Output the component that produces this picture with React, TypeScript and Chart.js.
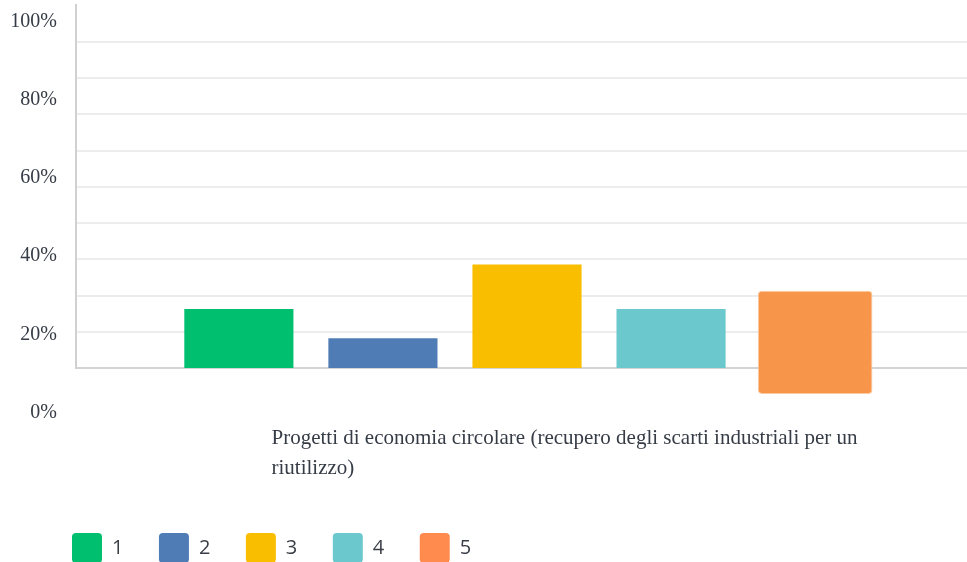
import React, { useEffect, useRef } from 'react';
import { Chart, registerables } from 'chart.js';

Chart.register(...registerables);

// ---- data ----
const categories = [[
  'Progetti di economia circolare (recupero degli scarti industriali per un',
  'riutilizzo)',
]];
const seriesNames = ['1', '2', '3', '4', '5'];
const series1 = [16.3];
const series2 = [8.2];
const series3 = [28.6];
const series4 = [16.3];
const series5 = [[-7.2, 21.3]];
const gridValues = [10, 20, 30, 40, 50, 60, 70, 80, 90];
const axisLabelValues = [0, 20, 40, 60, 80, 100];

// ---- styles ----
const barColors = ['#00BF6F', '#507CB6', '#F9BE00', '#6BC8CD', '#F7964A'];
const legendColors = ['#00BF6F', '#507CB6', '#F9BE00', '#6BC8CD', '#FF8B4F'];
const TEXT = '#363c46';
const SERIF = "'Liberation Serif', 'DejaVu Serif', serif";
const LEGEND_PAD = 35.5;

const legendPlace = {
  id: 'legendPlace',
  afterLayout(chart: any) {
    const lg = chart.legend;
    if (!lg) return;
    lg.left = 72 - LEGEND_PAD;
    lg.right = lg.left + lg.width;
    lg.top = 533 - LEGEND_PAD;
    lg.bottom = lg.top + lg.height;
  },
};

export default function App() {
  const canvasRef = useRef<HTMLCanvasElement | null>(null);

  useEffect(() => {
    const canvas = canvasRef.current;
    if (!canvas) return;
    const allSeries = [series1, series2, series3, series4, series5];
    const datasets: any[] = allSeries.map((data, i) => ({
      label: seriesNames[i],
      data,
      backgroundColor: barColors[i],
      borderWidth: 0,
      categoryPercentage: 0.7986,
      barPercentage: 0.7575,
    }));
    datasets[4] = {
      ...datasets[4],
      borderColor: '#FBC9A0',
      borderWidth: 1,
      borderRadius: 4,
      borderSkipped: false,
      barPercentage: 0.796,
      clip: false,
    };

    const chart = new Chart(canvas, {
      type: 'bar',
      data: { labels: categories as any, datasets },
      options: {
        animation: false,
        responsive: true,
        maintainAspectRatio: false,
        devicePixelRatio: 1,
        layout: { padding: { top: 5, right: 0, left: 0, bottom: 0 } },
        plugins: {
          tooltip: { enabled: false },
          title: { display: false },
          legend: {
            position: 'bottom',
            align: 'start',
            labels: {
              boxWidth: 30,
              boxHeight: 30,
              padding: LEGEND_PAD,
              color: '#3a3f47',
              useBorderRadius: true,
              borderRadius: 4,
              font: { family: "'Open Sans', 'Noto Sans', sans-serif", size: 20 },
              generateLabels: (c: any) =>
                (Chart.defaults.plugins.legend.labels.generateLabels as any)(c).map((item: any, i: number) => ({
                  ...item,
                  fillStyle: legendColors[i],
                  strokeStyle: legendColors[i],
                  lineWidth: 0,
                })),
            },
          },
        },
        scales: {
          x: {
            type: 'category',
            offset: true,
            grid: { display: false, drawTicks: false },
            border: { display: true, color: '#d3d3d3', width: 2 },
            ticks: {
              align: 'start',
              labelOffset: -255.5,
              padding: 56,
              autoSkip: false,
              maxRotation: 0,
              minRotation: 0,
              color: TEXT,
              font: { family: SERIF, size: 21, lineHeight: 1.4 },
            },
            afterFit(scale: any) {
              scale.paddingLeft = 0;
              scale.paddingRight = 0;
              scale.height = 118.5;
            },
          },
          y: {
            type: 'linear',
            position: 'right',
            min: 0,
            max: 100.2,
            ticks: { display: false },
            grid: { color: '#ececec', lineWidth: 2, drawTicks: false },
            border: { display: false },
            afterBuildTicks(scale: any) {
              scale.ticks = gridValues.map((v) => ({ value: v }));
            },
          },
          yLabels: {
            type: 'linear',
            position: 'left',
            min: 11.44,
            max: 104.16,
            grid: { display: false, drawTicks: false },
            border: { display: true, color: '#d0d0d0', width: 2 },
            ticks: {
              autoSkip: false,
              padding: 19,
              color: TEXT,
              font: { family: SERIF, size: 20 },
              callback: (v: any) => v + '%',
            },
            afterBuildTicks(scale: any) {
              scale.ticks = axisLabelValues.map((v) => ({ value: v }));
            },
            afterFit(scale: any) {
              scale.width = 76;
              scale.paddingTop = 0;
              scale.paddingBottom = 0;
            },
          },
        },
      } as any,
      plugins: [legendPlace],
    });
    return () => chart.destroy();
  }, []);

  return (
    <div style={{ position: 'fixed', left: 0, top: 0, width: 967, height: 562, overflow: 'hidden', background: '#fff' }}>
      <div style={{ position: 'relative', width: 978, height: 562 }}>
        <canvas ref={canvasRef} />
      </div>
    </div>
  );
}
